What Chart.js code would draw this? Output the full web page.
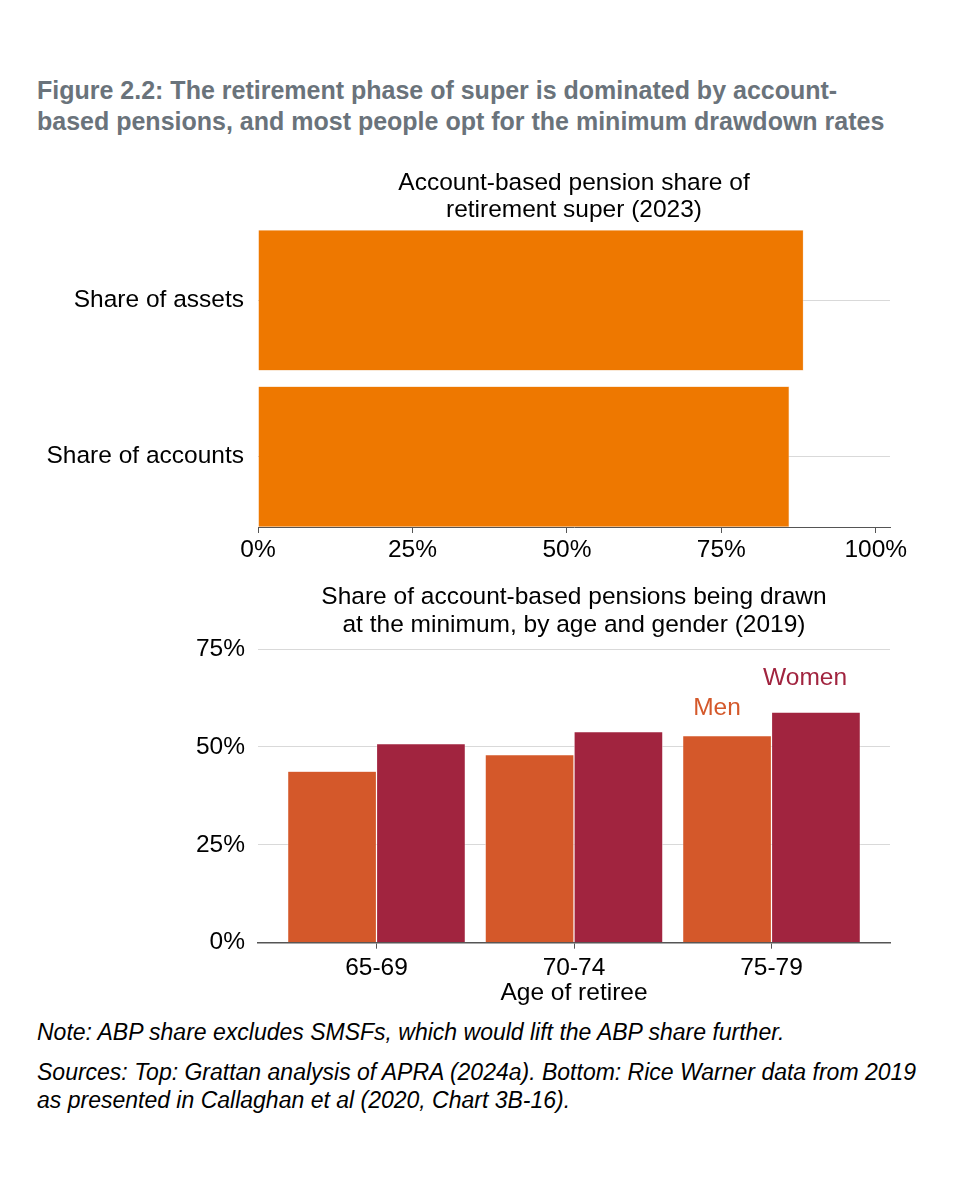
<!DOCTYPE html>
<html>
<head>
<meta charset="utf-8">
<title>Figure 2.2</title>
<script src="https://cdn.jsdelivr.net/npm/chart.js@4.4.1/dist/chart.umd.min.js"></script>
<style>
  html, body { margin: 0; padding: 0; background: #fff; }
  body { position: relative; width: 963px; height: 1181px; overflow: hidden; font-family: "Liberation Sans", Arial, sans-serif; }
  .title { position: absolute; left: 37px; top: 75px; font-size: 25px; font-weight: bold; line-height: 31px; color: #6a737b; white-space: nowrap; }
  .note { position: absolute; left: 37px; font-size: 23px; font-style: italic; line-height: 28px; color: #000; white-space: nowrap; }
  canvas { position: absolute; left: 0; }
</style>
</head>
<body>
<div class="title">Figure 2.2: The retirement phase of super is dominated by account-<br>based pensions, and most people opt for the minimum drawdown rates</div>
<canvas id="topChart" width="963" height="420" style="top:150px"></canvas>
<canvas id="bottomChart" width="963" height="440" style="top:570px"></canvas>
<div class="note" style="top:1018px">Note: ABP share excludes SMSFs, which would lift the ABP share further.</div>
<div class="note" style="top:1058px">Sources: Top: Grattan analysis of APRA (2024a). Bottom: Rice Warner data from 2019<br>as presented in Callaghan et al (2020, Chart 3B-16).</div>
<script>
// top panel: account-based pension share of retirement super (2023)
const pensionCategories = ['Share of assets', 'Share of accounts'];
const pensionShare = [88.3, 86.0];
const pensionTicks = [0, 25, 50, 75, 100];

// bottom panel: share drawing the minimum, by age and gender (2019)
const ageGroups = ['65-69', '70-74', '75-79'];
const menMinimum = [43.8, 48.0, 52.9];
const womenMinimum = [50.8, 53.9, 58.9];
const minimumTicks = [0, 25, 50, 75];

const orange = '#ee7800';
const darkOrange = '#d4582a';
const red = '#a1243f';
const gridGrey = '#d9d9d9';
const axisGrey = '#555555';
const fontFamily = '"Liberation Sans", Arial, sans-serif';
const labelFont = {size: 24.5, family: fontFamily};

Chart.defaults.font.family = fontFamily;
Chart.defaults.color = '#000';
Chart.defaults.animation = false;

// panel titles are centred on the plot area, not the canvas
const panelTitle = {
  id: 'panelTitle',
  afterDraw(chart, args, opts) {
    const {ctx, chartArea} = chart;
    const cx = (chartArea.left + chartArea.right) / 2;
    ctx.save();
    ctx.font = `${labelFont.size}px ${fontFamily}`;
    ctx.fillStyle = '#000';
    ctx.textAlign = 'center';
    ctx.textBaseline = 'middle';
    opts.lines.forEach((line, i) => ctx.fillText(line, cx, chartArea.top + opts.offsets[i]));
    ctx.restore();
  }
};

// direct series labels (Men / Women) instead of a legend
const seriesLabels = {
  id: 'seriesLabels',
  afterDatasetsDraw(chart, args, opts) {
    const {ctx, scales: {x, y}} = chart;
    ctx.save();
    ctx.font = `${labelFont.size}px ${fontFamily}`;
    ctx.textAlign = 'center';
    ctx.textBaseline = 'middle';
    opts.anchors.forEach((a, i) => {
      const ds = chart.data.datasets[i];
      ctx.fillStyle = ds.backgroundColor;
      ctx.fillText(ds.label, x.getPixelForValue(a.x), y.getPixelForValue(a.y));
    });
    ctx.restore();
  }
};

new Chart(document.getElementById('topChart'), {
  type: 'bar',
  data: {
    datasets: [{
      data: pensionShare.map((v, i) => ({x: v, y: i + 1})),
      backgroundColor: orange,
      borderColor: '#f7d9b8',
      borderWidth: 0.6,
      categoryPercentage: 0.9,
      barPercentage: 1
    }]
  },
  options: {
    indexAxis: 'y',
    responsive: false,
    layout: {padding: {top: 80, right: 73, left: 0, bottom: 0}},
    plugins: {
      legend: {display: false},
      tooltip: {enabled: false},
      panelTitle: {
        lines: ['Account-based pension share of', 'retirement super (2023)'],
        offsets: [-47, -20]
      }
    },
    scales: {
      x: {
        type: 'linear',
        min: 0,
        max: 102.3,
        z: 1,
        afterBuildTicks: s => { s.ticks = pensionTicks.map(v => ({value: v})); },
        afterFit: s => { s.height = 43; },
        grid: {drawOnChartArea: false, drawTicks: true, tickLength: 6, color: axisGrey},
        border: {color: axisGrey, width: 1},
        ticks: {font: labelFont, padding: 3, maxRotation: 0, callback: v => v + '%'}
      },
      y: {
        type: 'linear',
        reverse: true,
        offset: false,
        min: 0.55,
        max: 2.45,
        afterBuildTicks: s => { s.ticks = pensionCategories.map((c, i) => ({value: i + 1})); },
        afterFit: s => { s.width = 258; },
        grid: {color: gridGrey, drawTicks: false, offset: false},
        border: {display: false},
        ticks: {font: labelFont, padding: 14, callback: v => pensionCategories[v - 1]}
      }
    }
  },
  plugins: [panelTitle]
});

new Chart(document.getElementById('bottomChart'), {
  type: 'bar',
  data: {
    datasets: [
      {label: 'Men', data: menMinimum.map((v, i) => ({x: i + 1, y: v})), backgroundColor: darkOrange},
      {label: 'Women', data: womenMinimum.map((v, i) => ({x: i + 1, y: v})), backgroundColor: red}
    ]
  },
  options: {
    responsive: false,
    layout: {padding: {top: 79, right: 73, left: 0, bottom: 0}},
    datasets: {bar: {categoryPercentage: 0.9, barPercentage: 1, borderColor: '#ffffff', borderWidth: 0.6}},
    plugins: {
      legend: {display: false},
      tooltip: {enabled: false},
      panelTitle: {
        lines: ['Share of account-based pensions being drawn', 'at the minimum, by age and gender (2019)'],
        offsets: [-52, -24]
      },
      seriesLabels: {anchors: [{x: 2.724, y: 59.9}, {x: 3.17, y: 67.6}]}
    },
    scales: {
      x: {
        type: 'linear',
        offset: false,
        min: 0.4,
        max: 3.6,
        z: 1,
        afterBuildTicks: s => { s.ticks = ageGroups.map((g, i) => ({value: i + 1})); },
        afterFit: s => { s.height = 67.3; },
        grid: {drawOnChartArea: false, drawTicks: true, tickLength: 6, color: axisGrey, offset: false},
        border: {color: axisGrey, width: 1.5},
        ticks: {font: labelFont, padding: 5, maxRotation: 0, callback: v => ageGroups[v - 1]},
        title: {display: true, text: 'Age of retiree', font: labelFont, padding: {top: 0, bottom: 2}}
      },
      y: {
        min: 0,
        max: 75,
        afterBuildTicks: s => { s.ticks = minimumTicks.map(v => ({value: v})); },
        afterFit: s => { s.width = 258; },
        grid: {color: gridGrey, drawTicks: false},
        border: {display: false},
        ticks: {font: labelFont, padding: 13, callback: v => v + '%'}
      }
    }
  },
  plugins: [panelTitle, seriesLabels]
});
</script>
</body>
</html>
